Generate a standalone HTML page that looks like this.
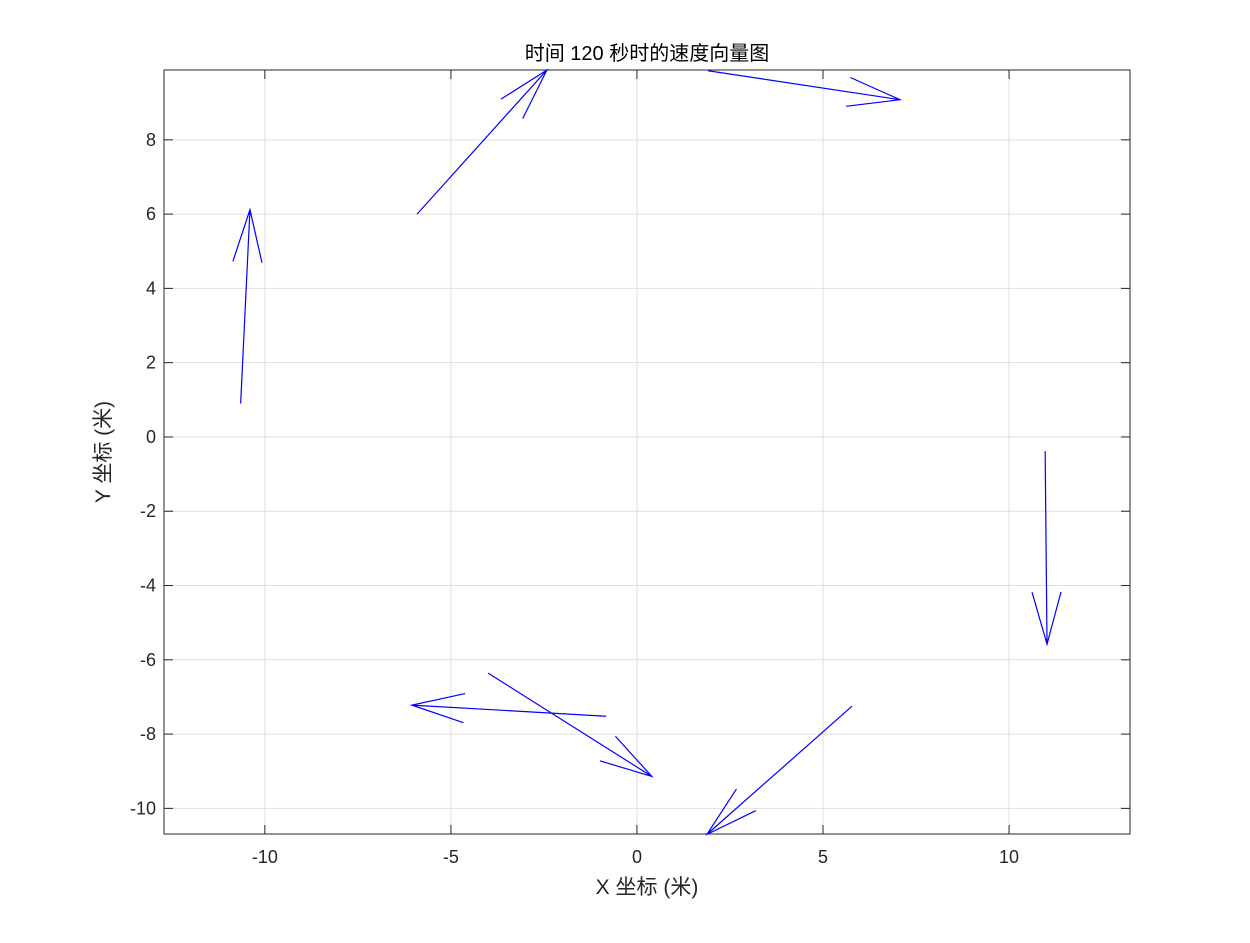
<!DOCTYPE html>
<html><head><meta charset="utf-8"><style>
body{margin:0;background:#fff;}
svg text{font-family:"Liberation Sans","Noto Sans CJK SC",sans-serif;}
</style></head><body>
<svg id="c" width="1250" height="938" xmlns="http://www.w3.org/2000/svg"></svg>
<script>
const xTicks=[-10,-5,0,5,10];
const yTicks=[-10,-8,-6,-4,-2,0,2,4,6,8];
const tailX=[-10.65,-5.91,1.91,10.97,5.78,-4.0,-0.83];
const tailY=[0.9,6.0,9.86,-0.38,-7.25,-6.36,-7.52];
const velU=[0.25,3.49,5.16,0.05,-3.90,4.40,-5.22];
const velV=[5.22,3.88,-0.78,-5.20,-3.45,-2.78,0.30];
const L=164,R=1130,T=70,B=834,x0=-12.71,x1=13.25,y0=-10.69,y1=9.88;
const sx=v=>L+(v-x0)/(x1-x0)*(R-L);
const sy=v=>B-(v-y0)/(y1-y0)*(B-T);
const svg=document.getElementById('c');
const NS='http://www.w3.org/2000/svg';
function mk(t,a,txt){const e=document.createElementNS(NS,t);for(const k in a)e.setAttribute(k,a[k]);if(txt!==undefined)e.textContent=txt;svg.appendChild(e);return e;}
let e=mk('rect',{x:L,y:T,width:R-L,height:B-T,fill:'#fff'});


xTicks.forEach(t=>{const x=sx(t);
 let g=mk('line',{x1:x,x2:x,y1:T,y2:B,stroke:'#dfdfdf'});
 
 
 mk('line',{x1:x,x2:x,y1:B,y2:B-9,stroke:'#262626'});
 mk('line',{x1:x,x2:x,y1:T,y2:T+9,stroke:'#262626'});
 let l=mk('text',{x:x,y:B+29,'text-anchor':'middle','font-size':18,fill:'#262626'},String(t));
 
 
});
yTicks.forEach(t=>{const y=sy(t);
 let g=mk('line',{x1:L,x2:R,y1:y,y2:y,stroke:'#dfdfdf'});
 
 
 mk('line',{x1:L,x2:L+9,y1:y,y2:y,stroke:'#262626'});
 mk('line',{x1:R,x2:R-9,y1:y,y2:y,stroke:'#262626'});
 let l=mk('text',{x:L-8,y:y+6,'text-anchor':'end','font-size':18,fill:'#262626'},String(t));
 
 
});
e=mk('rect',{x:L,y:T,width:R-L,height:B-T,fill:'none',stroke:'#262626','stroke-width':1});


tailX.forEach((tx,i)=>{
 const ax=sx(tx),ay=sy(tailY[i]),bx=sx(tx+velU[i]),by=sy(tailY[i]+velV[i]);
 const dx=bx-ax,dy=by-ay,len=Math.hypot(dx,dy),ux=dx/len,uy=dy/len;
 const back=0.27*len,w=0.075*len;
 const p1=[bx-ux*back-uy*w,by-uy*back+ux*w],p2=[bx-ux*back+uy*w,by-uy*back-ux*w];
 const a=mk('path',{d:`M${ax},${ay}L${bx},${by}M${p1[0]},${p1[1]}L${bx},${by}L${p2[0]},${p2[1]}`,stroke:'#0000ff',fill:'none','stroke-width':1.2});
 
 
});
e=mk('text',{x:647,y:60,'text-anchor':'middle','font-size':20,fill:'#000'},'时间 120 秒时的速度向量图');


e=mk('text',{x:647,y:894,'text-anchor':'middle','font-size':21,fill:'#262626'},'X 坐标 (米)');


e=mk('text',{x:0,y:0,'text-anchor':'middle','font-size':21,fill:'#262626',transform:'translate(110,452) rotate(-90)'},'Y 坐标 (米)');


</script>
</body></html>
